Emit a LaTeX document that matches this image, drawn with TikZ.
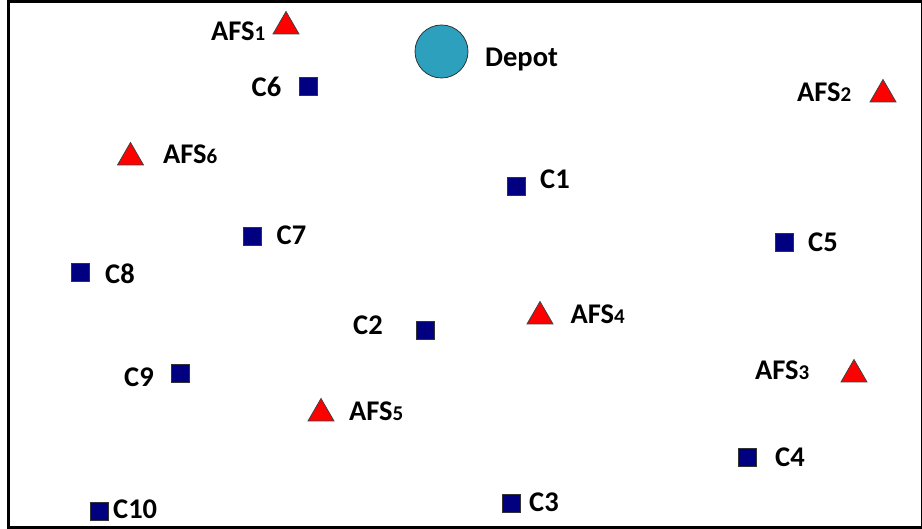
\documentclass[tikz,border=0pt]{standalone}
\usepackage{fontspec}
\setmainfont{Carlito}
\usetikzlibrary{shapes.geometric}
\definecolor{navyc}{RGB}{0,0,128}
\definecolor{depotc}{RGB}{44,160,188}
\newcommand{\sub}[1]{{\fontsize{21}{22}\selectfont #1}}
\tikzset{
  cust/.style={rectangle, draw=black!80, fill=navyc, line width=0.8pt, minimum size=18pt, inner sep=0pt, outer sep=0pt},
  afs/.style={regular polygon, regular polygon sides=3, draw=black!75, fill=red, line width=0.8pt, minimum size=30pt, inner sep=0pt, outer sep=0pt},
  depot/.style={circle, draw=black!80, fill=depotc, line width=0.8pt, minimum size=53pt, inner sep=0pt},
  lbl/.style={anchor=base west, inner sep=0pt, font=\fontsize{28.5}{30}\selectfont\bfseries}
}
\begin{document}
\begin{tikzpicture}[x=1pt,y=-1pt]
\useasboundingbox (0,0) rectangle (922,529);
\draw[line width=3.5pt] (8.5,1.75) rectangle (922.5,527.25);
% depot
\node[depot] (depot) at (441.5,51.5) {};
\node[lbl] (depotL) at (485,67) {Depot};
% AFS
\node[afs] (afs1) at (286,26.5) {};
\node[lbl] (afs1L) at (211,40.5) {AFS\sub{1}};
\node[afs] (afs2) at (883,94.5) {};
\node[lbl] (afs2L) at (797,101.5) {AFS\sub{2}};
\node[afs] (afs3) at (854,374.5) {};
\node[lbl] (afs3L) at (755,379.5) {AFS\sub{3}};
\node[afs] (afs4) at (540,316.5) {};
\node[lbl] (afs4L) at (570.5,323.5) {AFS\sub{4}};
\node[afs] (afs5) at (321,413.5) {};
\node[lbl] (afs5L) at (349,420.5) {AFS\sub{5}};
\node[afs] (afs6) at (130.5,157.5) {};
\node[lbl] (afs6L) at (163,164) {AFS\sub{6}};
% customers
\node[cust] (c1) at (516.5,186) {};
\node[lbl] (c1L) at (540,188.5) {C1};
\node[cust] (c2) at (425.5,330) {};
\node[lbl] (c2L) at (353,335) {C2};
\node[cust] (c3) at (511.5,503.5) {};
\node[lbl] (c3L) at (529,511.5) {C3};
\node[cust] (c4) at (747,457.5) {};
\node[lbl] (c4L) at (775,467) {C4};
\node[cust] (c5) at (784,242.5) {};
\node[lbl] (c5L) at (808,252) {C5};
\node[cust] (c6) at (308,86) {};
\node[lbl] (c6L) at (251.5,96.5) {C6};
\node[cust] (c7) at (252,236) {};
\node[lbl] (c7L) at (276.5,245) {C7};
\node[cust] (c8) at (80,272.5) {};
\node[lbl] (c8L) at (105,284) {C8};
\node[cust] (c9) at (180,373) {};
\node[lbl] (c9L) at (124,387) {C9};
\node[cust] (c10) at (99,511) {};
\node[lbl] (c10L) at (113,518.5) {C10};
\end{tikzpicture}
\end{document}
